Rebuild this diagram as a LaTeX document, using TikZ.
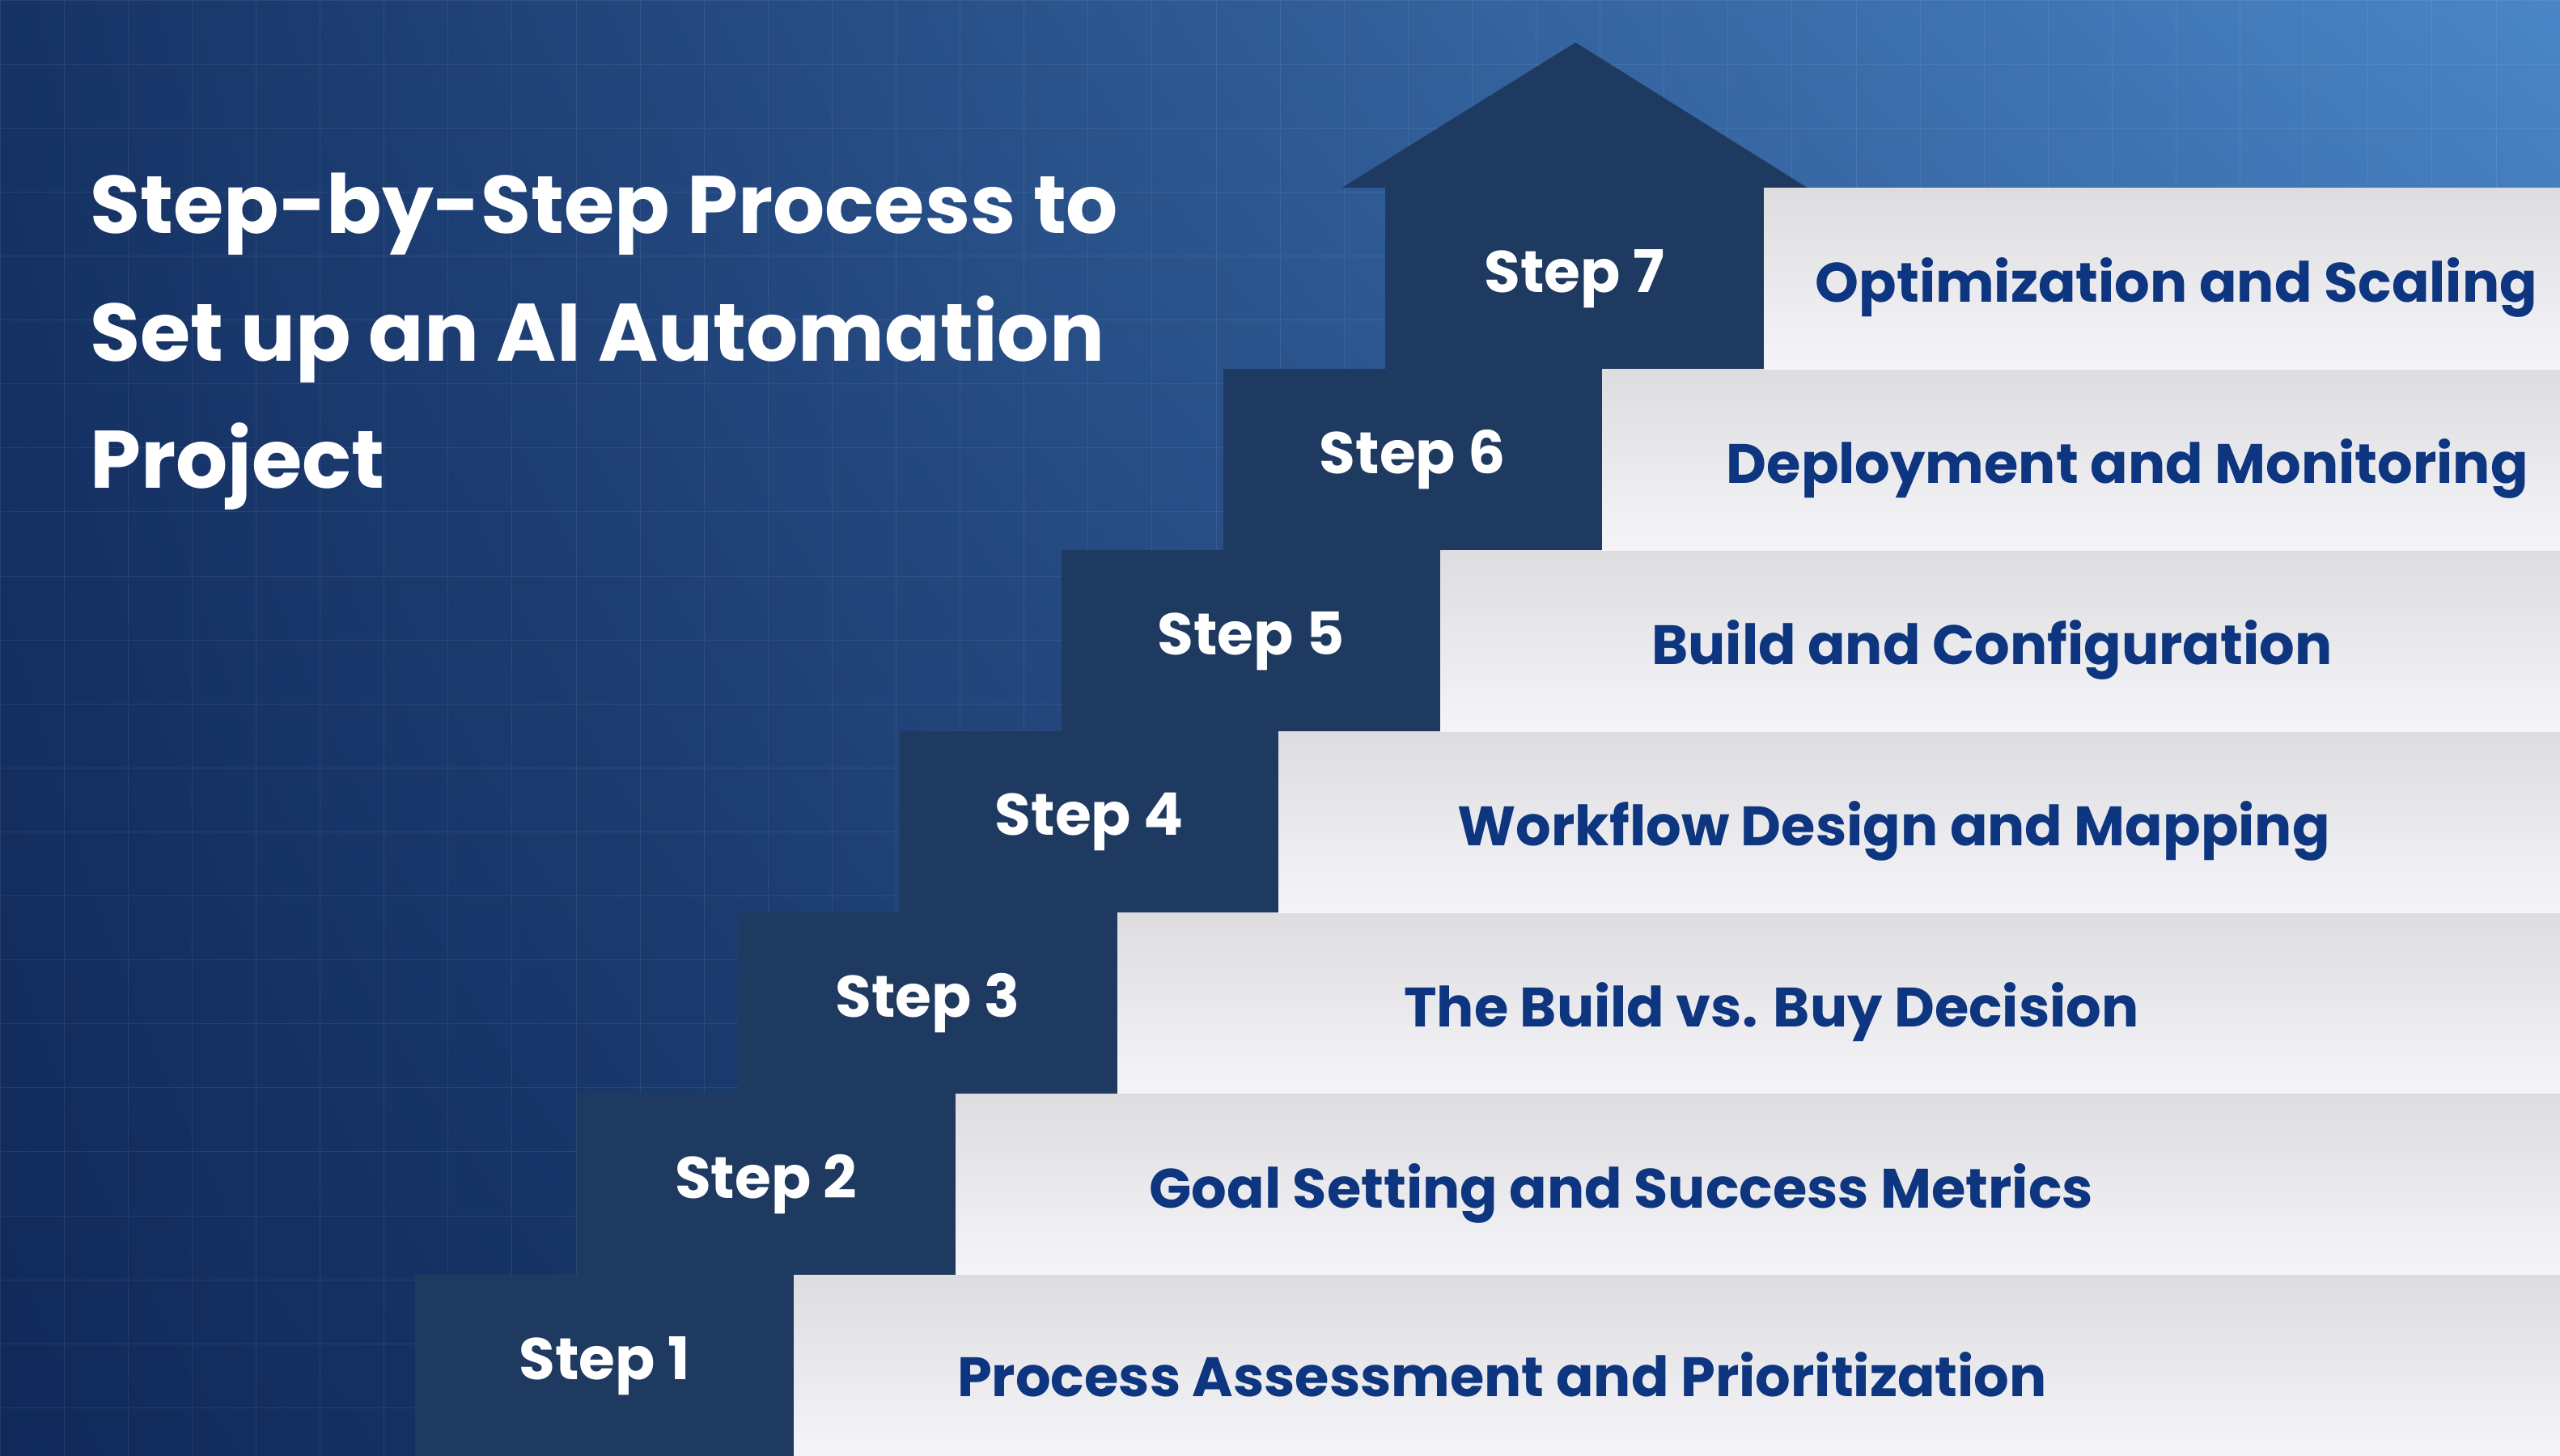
\documentclass[tikz,border=0pt]{standalone}
\usepackage{fontspec}
\setmainfont{Poppins}
\usetikzlibrary{positioning,shadings}
\definecolor{navy}{HTML}{1F3A60}
\definecolor{bgdark}{HTML}{10295A}
\definecolor{bglight}{HTML}{4A86C8}
\definecolor{inktext}{HTML}{0D3580}
\definecolor{panelhi}{HTML}{F5F5F9}
\definecolor{panello}{HTML}{DDDDE0}
\tikzset{
  stepbox/.style={fill=navy, draw=none, minimum width=232pt, minimum height=111pt, inner sep=0pt,
    text=white, font=\fontsize{36}{40}\selectfont\bfseries},
  steptext/.style={text=inktext, font=\fontsize{34}{40}\selectfont\bfseries},
}
\begin{document}
\begin{tikzpicture}[x=1pt,y=-1pt]
  \useasboundingbox (0,0) rectangle (1568,892);
  % background
  \shade[lower left=bgdark, upper left=bgdark!90!bglight, upper right=bglight, lower right=bgdark!60!bglight]
    (0,0) rectangle (1568,892);
  \draw[white, opacity=0.08, step=39.2pt] (0,0) grid (1568,892);
  % arrow head
  \fill[navy] (822,115) -- (965,26) -- (1107,115) -- cycle;
  % rows
  \foreach \k/\lbl/\cx in {1/Process Assessment and Prioritization/920,
      2/Goal Setting and Success Metrics/993,
      3/The Build vs. Buy Decision/1085,
      4/Workflow Design and Mapping/1160,
      5/Build and Configuration/1220,
      6/Deployment and Monitoring/1303,
      7/Optimization and Scaling/1333} {
    \pgfmathsetmacro{\xl}{254+99*(\k-1)}
    \pgfmathsetmacro{\yt}{892-111*\k}
    \shade[top color=panello, bottom color=panelhi] (\xl+232,\yt) rectangle (1568,\yt+111);
    \node[stepbox, anchor=north west] (step\k) at (\xl,\yt) {\raisebox{-3pt}{Step \k}};
    \node[steptext] (task\k) at (\cx,\yt+61) {\lbl};
  }
  % title
  \node[anchor=north west, align=left, text=white, inner sep=0pt,
    font=\fontsize{50}{78}\selectfont\bfseries] (title) at (55,106)
    {Step-by-Step Process to\\Set up an AI Automation\\Project};
\end{tikzpicture}
\end{document}
